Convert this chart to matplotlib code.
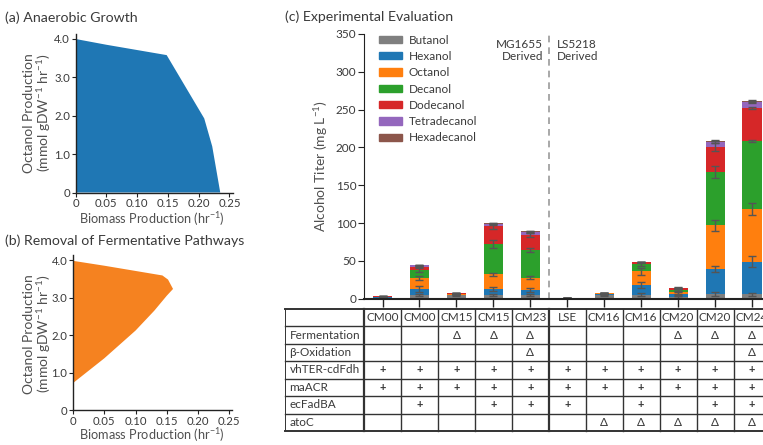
import numpy as np
import matplotlib
matplotlib.use("Agg")
import matplotlib.pyplot as plt
from matplotlib.patches import Patch

plt.rcParams['font.family'] = ['Lato', 'DejaVu Sans']
plt.rcParams['mathtext.fontset'] = 'custom'
plt.rcParams['mathtext.rm'] = 'Lato'
plt.rcParams['mathtext.it'] = 'Lato:italic'

TXT = '#3a3a3a'
LBL = '#505050'

# production envelopes (biomass, octanol)
env_a_x = [0, 0.05, 0.148, 0.209, 0.222, 0.235, 0]
env_a_y = [4.0, 3.85, 3.58, 1.93, 1.2, 0, 0]
env_b_x = [0, 0.05, 0.143, 0.152, 0.16, 0.15, 0.13, 0.10, 0.05, 0]
env_b_y = [3.98, 3.85, 3.59, 3.48, 3.23, 3.05, 2.65, 2.12, 1.38, 0.72]

# alcohol titers (mg/L) per strain
strains = ["CM00", "CM00", "CM15", "CM15", "CM23", "LSE", "CM16", "CM16", "CM20", "CM20", "CM24"]
compounds = ["Butanol", "Hexanol", "Octanol", "Decanol", "Dodecanol", "Tetradecanol", "Hexadecanol"]
colors = ["#7f7f7f", "#1f77b4", "#ff7f0e", "#2ca02c", "#d62728", "#9467bd", "#8c564b"]
butanol = [1.2, 4.5, 5.0, 4.5, 4.5, 0.6, 5.5, 5.0, 2.6, 6.0, 6.0]
hexanol = [0.4, 8.0, 0.5, 8.0, 7.0, 0.1, 0.4, 13.0, 3.4, 33.0, 43.0]
octanol = [0.6, 15.0, 0.8, 19.5, 16.5, 0.1, 1.0, 18.0, 2.4, 58.0, 70.0]
decanol = [0.3, 11.0, 0.3, 40.5, 36.5, 0.3, 0.2, 10.0, 3.0, 70.5, 89.5]
dodecanol = [0.5, 4.0, 0.7, 23.0, 20.0, 0.1, 0.2, 2.0, 2.2, 33.0, 43.5]
tetradecanol = [0.1, 1.5, 0.2, 3.5, 4.0, 0.0, 0.1, 0.5, 0.8, 7.0, 8.0]
hexadecanol = [0.1, 0.3, 0.1, 0.5, 0.5, 0.0, 0.1, 0.2, 0.0, 1.5, 1.5]
titers = [butanol, hexanol, octanol, decanol, dodecanol, tetradecanol, hexadecanol]

err_butanol = [0.5, 1.5, 1.5, 1.5, 1.5, 0.3, 2.0, 2.0, 2.0, 3.0, 2.0]
err_hexanol = [0.3, 4.0, 0.5, 3.0, 3.0, 0.1, 0.5, 4.0, 3.0, 4.0, 7.0]
err_octanol = [0.3, 3.0, 0.5, 2.0, 2.0, 0.1, 0.5, 5.0, 2.0, 7.0, 8.0]
err_decanol = [0.2, 3.0, 0.3, 5.0, 3.0, 0.1, 0.3, 3.0, 1.5, 8.0, 1.5]
err_dodecanol = [0.2, 2.0, 0.5, 3.0, 3.0, 0.1, 0.3, 1.0, 1.0, 5.0, 1.5]
err_tetradecanol = [0.1, 1.0, 0.3, 1.0, 1.0, 0.0, 0.1, 0.5, 0.5, 1.5, 1.5]
err_hexadecanol = [0.1, 0.5, 0.1, 0.5, 0.5, 0.0, 0.1, 0.2, 0.2, 1.0, 1.0]
errors = [err_butanol, err_hexanol, err_octanol, err_decanol, err_dodecanol,
          err_tetradecanol, err_hexadecanol]

# genotype table
row_names = ["Fermentation", "β-Oxidation", "vhTER-cdFdh", "maACR", "ecFadBA", "atoC"]
fermentation = ["", "", "Δ", "Δ", "Δ", "", "", "", "Δ", "Δ", "Δ"]
beta_oxidation = ["", "", "", "", "Δ", "", "", "", "", "", "Δ"]
vhter_cdfdh = ["+"] * 11
maacr = ["+"] * 11
ecfadba = ["", "+", "", "+", "+", "+", "", "+", "", "+", "+"]
atoc = ["", "", "", "", "", "", "Δ", "Δ", "Δ", "Δ", "Δ"]
genotypes = [fermentation, beta_oxidation, vhter_cdfdh, maacr, ecfadba, atoc]

fig = plt.figure(figsize=(7.63, 4.45), dpi=100)


def envelope_axes(rect, xs, ys, color, title, title_y, ylab, xlab):
    ax = fig.add_axes(rect)
    ax.fill(xs, ys, color=color, lw=0)
    ax.set_xlim(0, 0.255)
    ax.set_ylim(0, 4.13)
    ax.spines[['top', 'right']].set_visible(False)
    for s in ['left', 'bottom']:
        ax.spines[s].set_color('#222222')
        ax.spines[s].set_linewidth(1.0)
    ax.set_xticks([0, 0.05, 0.10, 0.15, 0.20, 0.25])
    ax.set_xticklabels(["0", "0.05", "0.10", "0.15", "0.20", "0.25"])
    ax.set_yticks([0, 1, 2, 3, 4])
    ax.set_yticklabels(["0", "1.0", "2.0", "3.0", "4.0"])
    ax.tick_params(labelsize=8.2, colors='#222222', labelcolor=TXT, length=3, pad=1)
    ax.set_ylabel("Octanol Production\n(mmol gDW$^{-1}$ hr$^{-1}$)", fontsize=10,
                  color=LBL, linespacing=1.0)
    ax.yaxis.set_label_coords(*ylab)
    ax.set_xlabel("Biomass Production (hr$^{-1}$)", fontsize=9.2, color=LBL)
    ax.xaxis.set_label_coords(*xlab)
    fig.text(5 / 763, 1 - title_y / 445, title, fontsize=10.2, color=TXT, va='center')
    return ax


envelope_axes([0.099, 0.5674, 0.2058, 0.3562], env_a_x, env_a_y, '#1f77b4',
              "(a) Anaerobic Growth", 18, (-0.143, 0.5), (0.487, -0.11))
envelope_axes([0.0957, 0.0785, 0.2089, 0.3480], env_b_x, env_b_y, '#f58220',
              "(b) Removal of Fermentative Pathways", 241, (-0.127, 0.49), (0.494, -0.105))

# (c) stacked titers
x = np.arange(len(strains))
xmin, xmax = -0.5, 10.5
ax = fig.add_axes([0.4771, 0.3288, 0.5328, 0.5948])
bottom = np.zeros(len(strains))
for vals, errs, col in zip(titers, errors, colors):
    vals = np.array(vals)
    ax.bar(x, vals, 0.52, bottom=bottom, color=col, lw=0)
    top = bottom + vals
    ax.errorbar(x, top, yerr=errs, fmt='none', ecolor='#555555', elinewidth=1.0,
                capsize=3, capthick=1.0)
    bottom = top
ax.set_xlim(xmin, xmax)
ax.set_ylim(0, 350)
ax.set_yticks(np.arange(0, 351, 50))
ax.set_xticks(x)
ax.set_xticklabels([])
ax.spines[['top', 'right']].set_visible(False)
ax.spines['left'].set_color('#222222')
ax.spines['bottom'].set_color('#222222')
ax.spines['bottom'].set_linewidth(1.5)
ax.tick_params(axis='y', labelsize=8.5, colors='#222222', labelcolor=TXT, length=4, pad=1.5)
ax.tick_params(axis='x', length=6, width=1.0, colors='#222222')
ax.set_ylabel("Alcohol Titer (mg L$^{-1}$)", fontsize=10, color=LBL)
ax.yaxis.set_label_coords(-0.084, 0.5)
ax.axvline(4.5, color='#9a9a9a', ls=(0, (4, 3)), lw=1.2)
ax.text(4.35, 344, "MG1655\nDerived", ha='right', va='top', fontsize=8.5, color=TXT,
        multialignment='right', linespacing=1.15)
ax.text(4.72, 344, "LS5218\nDerived", ha='left', va='top', fontsize=8.5, color=TXT,
        linespacing=1.15)
handles = [Patch(color=c, label=n) for c, n in zip(colors, compounds)]
ax.legend(handles=handles, loc='upper left', bbox_to_anchor=(0.022, 1.02), frameon=False,
          fontsize=8.5, handlelength=2.0, handleheight=0.55, handletextpad=0.5,
          labelspacing=0.45, borderpad=0, labelcolor=TXT)
fig.text(285 / 763, 1 - 17 / 445, "(c) Experimental Evaluation", fontsize=10.2,
         color=TXT, va='center')

# genotype table under the bars
tx = fig.add_axes([0.3735, 0.0315, 1.0098 - 0.3735, 0.2741])
label_left = -2.64
tx.set_xlim(label_left, xmax)
tx.set_ylim(len(row_names) + 1, 0)
tx.axis('off')
nrows = len(row_names) + 1
for r in range(nrows + 1):
    lw = 1.4 if r in (0, nrows) else 1.0
    tx.plot([label_left, xmax + 1], [r, r], color='#333333', lw=lw, clip_on=False)
for c in range(len(strains) + 1):
    xc = c - 0.5
    lw = 1.6 if c in (0, 5) else 1.0
    tx.plot([xc, xc], [0, nrows], color='#333333', lw=lw, clip_on=False)
tx.plot([label_left, label_left], [0, nrows], color='#333333', lw=1.4)
for i, s in enumerate(strains):
    tx.text(i, 0.5, s, ha='center', va='center', fontsize=8.5, color=TXT)
for r, (name, row) in enumerate(zip(row_names, genotypes), start=1):
    tx.text(label_left + 0.12, r + 0.5, name, ha='left', va='center', fontsize=8.5, color=TXT)
    for i, v in enumerate(row):
        if v == "+":
            tx.text(i, r + 0.5, v, ha='center', va='center', fontsize=8, color=TXT,
                    fontweight='bold')
        elif v:
            tx.text(i, r + 0.5, v, ha='center', va='center', fontsize=8.5, color=TXT)

fig.savefig("out.png", dpi=100)
